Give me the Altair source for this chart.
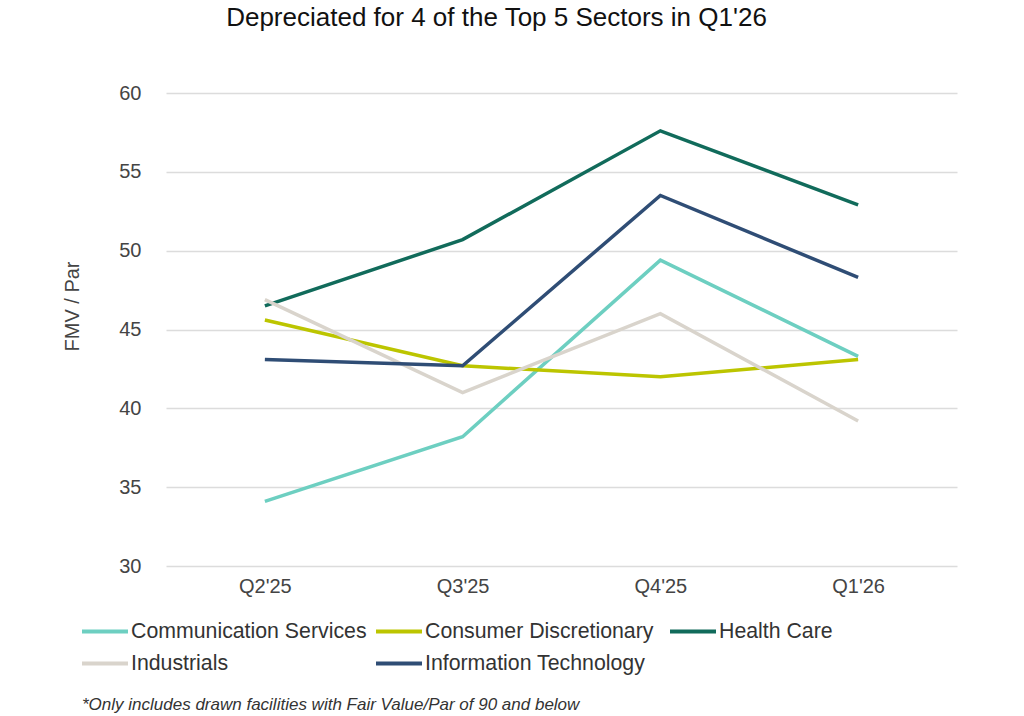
import altair as alt
import pandas as pd

quarters = ["Q2'25", "Q3'25", "Q4'25", "Q1'26"]
sectors = ["Communication Services", "Consumer Discretionary", "Health Care",
           "Industrials", "Information Technology"]
comm_services = [34.1, 38.2, 49.4, 43.3]
consumer_disc = [45.6, 42.7, 42.0, 43.1]
health_care = [46.5, 50.7, 57.6, 52.9]
industrials = [46.9, 41.0, 46.0, 39.2]
info_tech = [43.1, 42.7, 53.5, 48.3]
sector_colors = {
    "Communication Services": "#6dcfc1",
    "Consumer Discretionary": "#bcc500",
    "Health Care": "#116b5b",
    "Industrials": "#d9d4cc",
    "Information Technology": "#2f4d75",
}
# legend is filled column by column: this order gives rows
# [Comm, Consumer, Health] / [Industrials, IT]
legend_order = ["Communication Services", "Industrials", "Consumer Discretionary",
                "Information Technology", "Health Care"]
title_text = "Depreciated for 4 of the Top 5 Sectors in Q1'26"
footnote = "*Only includes drawn facilities with Fair Value/Par of 90 and below"

series = [comm_services, consumer_disc, health_care, industrials, info_tech]
rows = []
for name, vals in zip(sectors, series):
    for q, v in zip(quarters, vals):
        rows.append({"Quarter": q, "Sector": name, "Value": v})
df = pd.DataFrame(rows)

FONT = "Liberation Sans"

lines = alt.Chart(df).mark_line(strokeWidth=3.5).encode(
    x=alt.X("Quarter:N", sort=quarters,
            axis=alt.Axis(title=None, labelAngle=0, labelFontSize=20, labelColor="#444444",
                          labelFont=FONT, labelPadding=10, ticks=False, domain=False, grid=False)),
    y=alt.Y("Value:Q", scale=alt.Scale(domain=[30, 60], nice=False, zero=False),
            axis=alt.Axis(title="FMV / Par", values=[30, 35, 40, 45, 50, 55, 60],
                          labelFontSize=20, labelColor="#444444", labelFont=FONT,
                          labelPadding=25, ticks=False, domain=False,
                          gridColor="#dcdcdc", gridWidth=1.5,
                          titleFont=FONT, titleFontSize=20, titleFontWeight="normal",
                          titleColor="#444444", titleX=-94, titleY=213,
                          titleAngle=270, titleAlign="center", titleBaseline="middle")),
    color=alt.Color("Sector:N", sort=legend_order,
                    scale=alt.Scale(domain=legend_order,
                                    range=[sector_colors[s] for s in legend_order]),
                    legend=alt.Legend(title=None, orient="none", legendX=-86, legendY=528,
                                      columns=3, symbolType="stroke", symbolSize=2116,
                                      symbolStrokeWidth=4, labelFontSize=21.3,
                                      labelFont=FONT, labelColor="#333333",
                                      labelOffset=1, columnPadding=7, rowPadding=10,
                                      clipHeight=21, gridAlign="all",
                                      padding=0, labelLimit=400)),
)

note = alt.Chart(pd.DataFrame({"t": [footnote]})).mark_text(
    align="left", baseline="middle", fontSize=17, fontStyle="italic", font=FONT,
    color="#333333"
).encode(text="t:N", x=alt.value(-84), y=alt.value(612))

chart = alt.layer(lines, note).properties(
    width=791, height=473,
    background="white",
    title=alt.TitleParams(title_text, fontSize=26, font=FONT, fontWeight="normal",
                          color="#111111", anchor="middle", frame="group", offset=52,
                          dx=-65),
    autosize=alt.AutoSizeParams(type="none"),
    padding={"left": 166, "top": 93, "right": 67, "bottom": 150},
).configure_view(stroke=None)

chart.save("out.html", embed_options={"renderer": "svg", "actions": False})
